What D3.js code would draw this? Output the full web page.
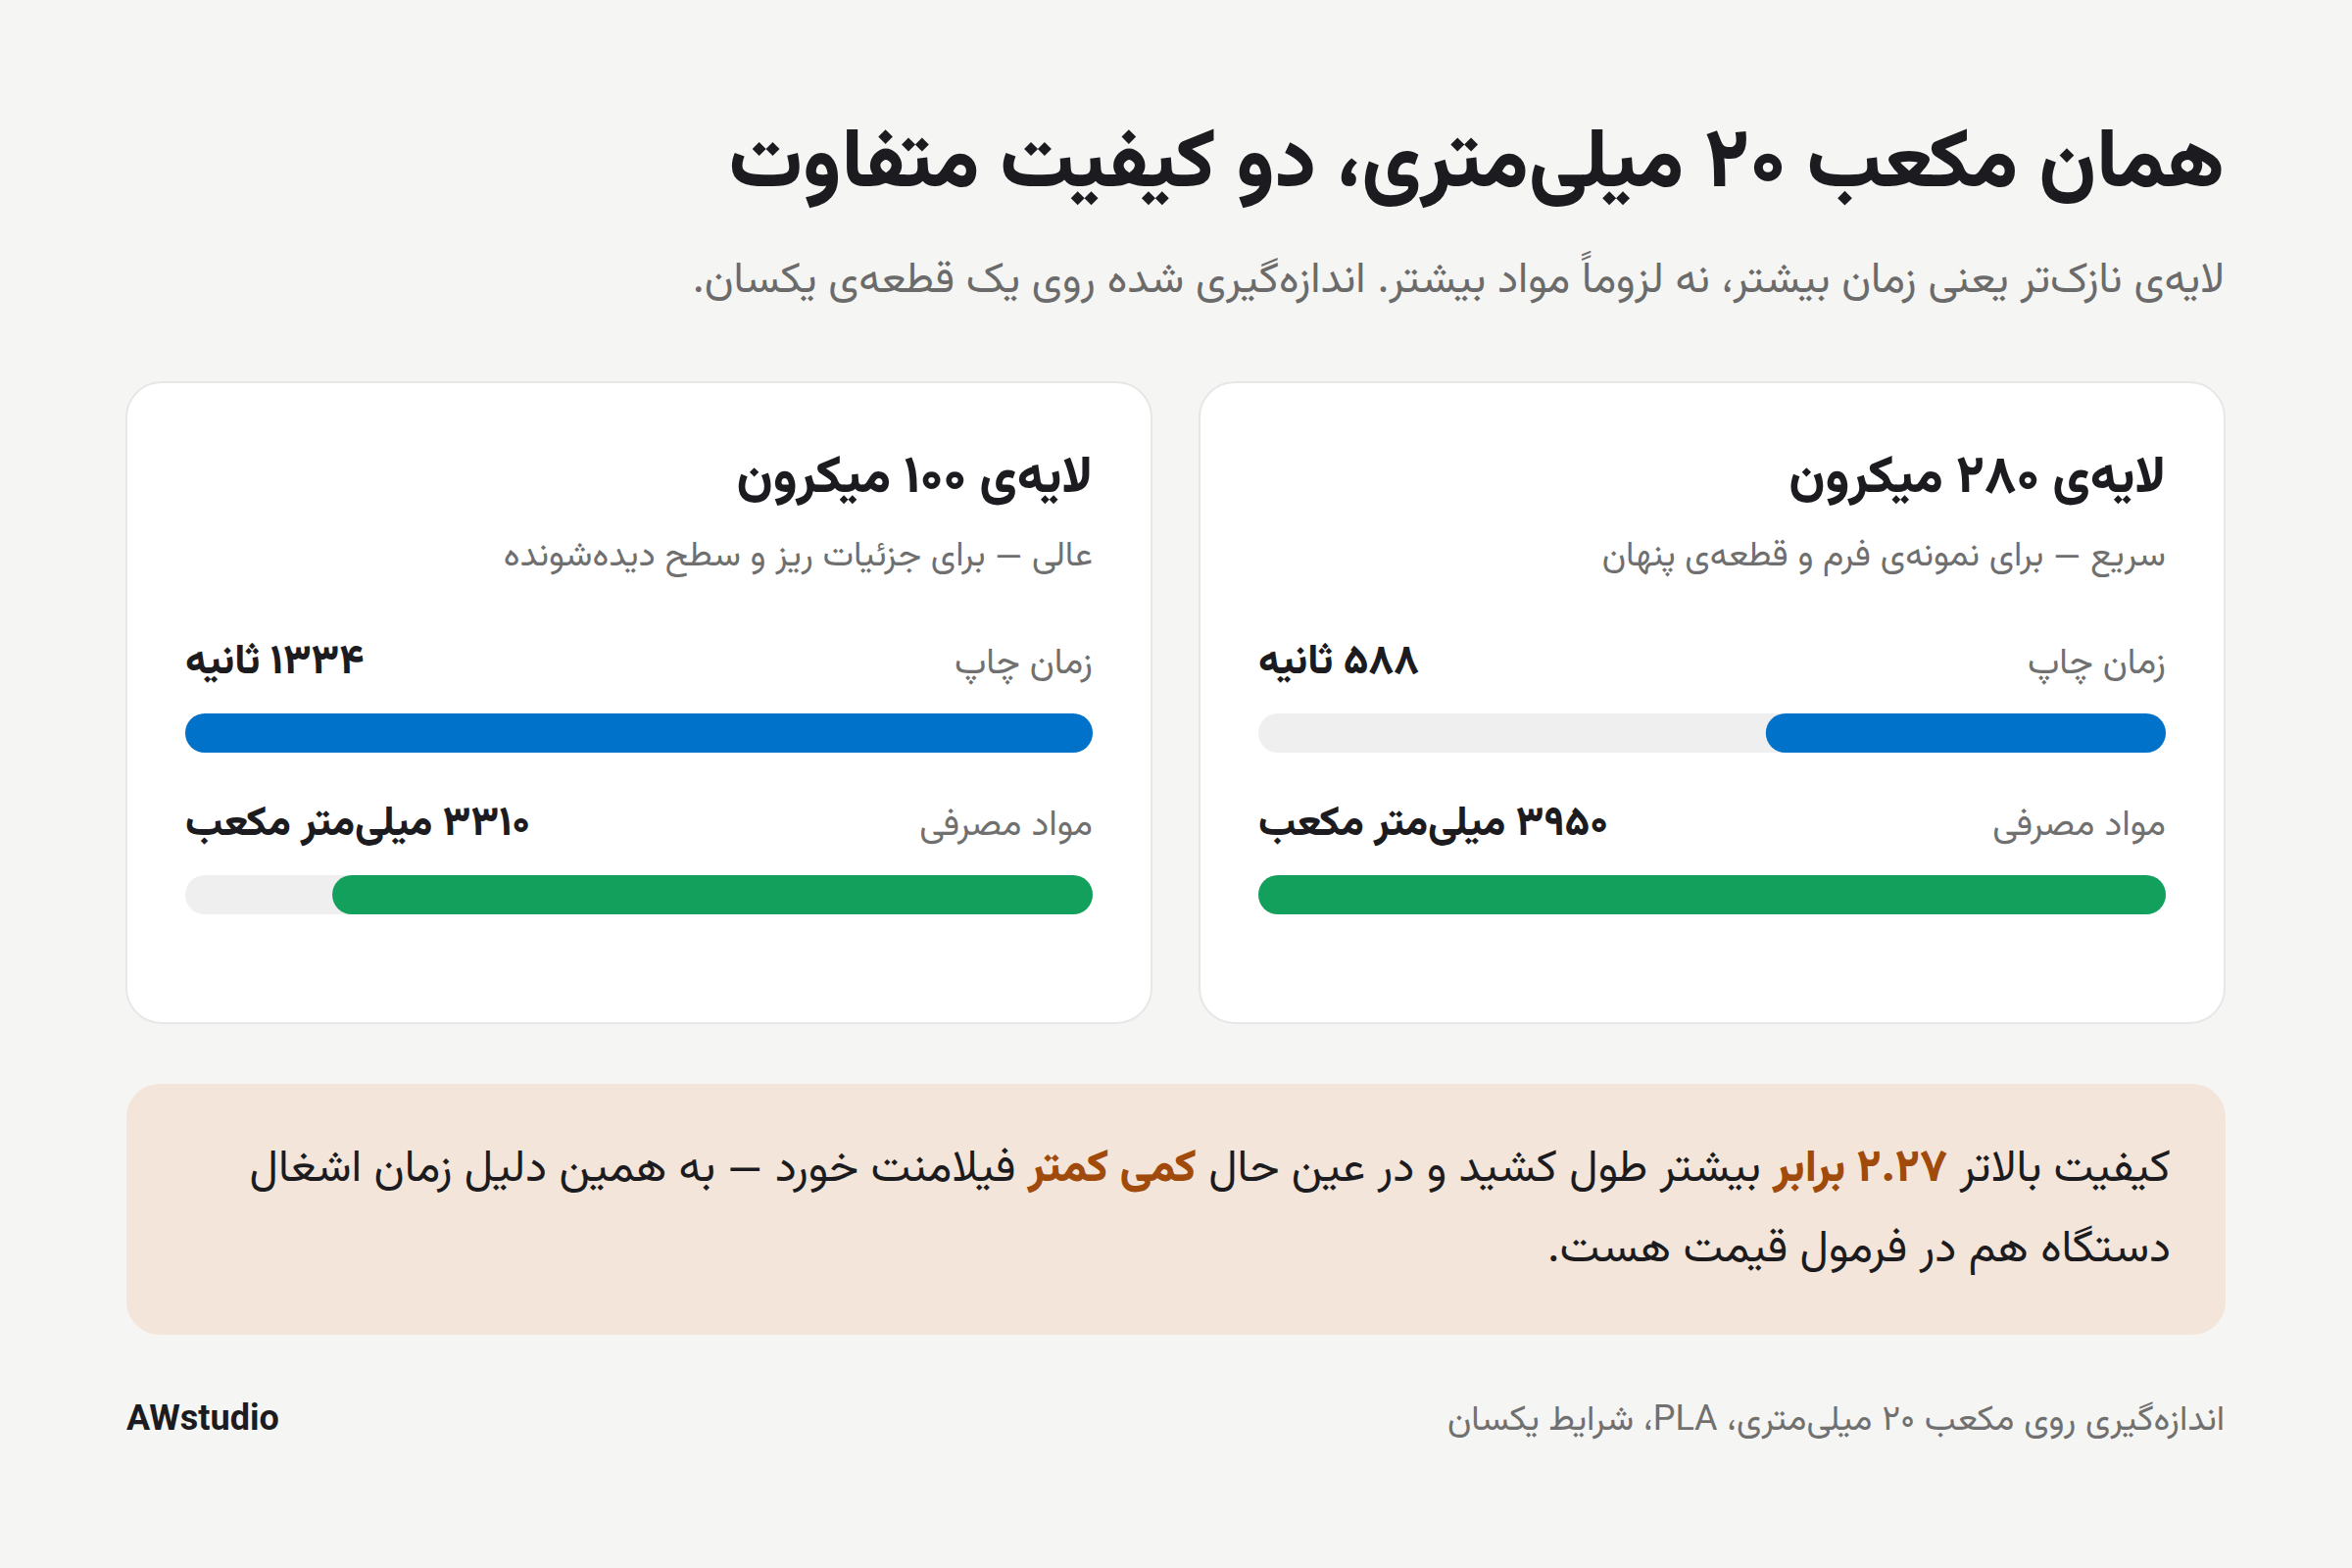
<!DOCTYPE html>
<html lang="fa" dir="rtl">
<head>
<meta charset="utf-8">
<script src="https://cdn.jsdelivr.net/npm/d3@7"></script>
<style>
  html, body { margin: 0; padding: 0; background: #f5f5f3; }
  svg { display: block; }
  text { font-family: "Vazirmatn", "Noto Sans Arabic", "DejaVu Sans", sans-serif; }
</style>
</head>
<body>
<svg id="chart" width="2400" height="1600"></svg>
<script>
// ---------- data ----------
const titleText = "همان مکعب ۲۰ میلی‌متری، دو کیفیت متفاوت";
const subtitleText = "لایه‌ی نازک‌تر یعنی زمان بیشتر، نه لزوماً مواد بیشتر. اندازه‌گیری شده روی یک قطعه‌ی یکسان.";
const layers = ["لایه‌ی ۲۸۰ میکرون", "لایه‌ی ۱۰۰ میکرون"];
const layerNotes = ["سریع — برای نمونه‌ی فرم و قطعه‌ی پنهان", "عالی — برای جزئیات ریز و سطح دیده‌شونده"];
const metricLabels = ["زمان چاپ", "مواد مصرفی"];
const metricUnits = ["ثانیه", "میلی‌متر مکعب"];
const printTime = [588, 1334];
const material = [3950, 3310];
const noteLine1 = [
  {t: "کیفیت بالاتر ", h: false},
  {t: "۲.۲۷ برابر", h: true},
  {t: " بیشتر طول کشید و در عین حال ", h: false},
  {t: "کمی کمتر", h: true},
  {t: " فیلامنت خورد — به همین دلیل زمان اشغال", h: false}
];
const noteLine2 = [{t: "دستگاه هم در فرمول قیمت هست.", h: false}];
const footerBrand = "AWstudio";
const footerNote = "اندازه‌گیری روی مکعب ۲۰ میلی‌متری، PLA، شرایط یکسان";

// ---------- helpers ----------
const faDigits = n => String(n).replace(/\d/g, d => "۰۱۲۳۴۵۶۷۸۹"[d]);

const svg = d3.select("#chart");
const right = 2270;

// title & subtitle
svg.append("text").attr("x", right).attr("y", 190)
  .attr("direction", "rtl").attr("text-anchor", "start")
  .attr("font-size", 84).attr("font-weight", 800).attr("fill", "#1c1c20")
  .text(titleText);
svg.append("text").attr("x", right).attr("y", 298)
  .attr("direction", "rtl").attr("text-anchor", "start")
  .attr("font-size", 44).attr("fill", "#6b6b6b")
  .text(subtitleText);

// cards
const cardW = 1046, cardH = 654, cardTop = 390, pad = 60;
const cardX = d3.scaleOrdinal().domain(layers).range([1224, 129]);
const metrics = [
  {label: metricLabels[0], unit: metricUnits[0], values: printTime, color: "#0072c9"},
  {label: metricLabels[1], unit: metricUnits[1], values: material, color: "#12a05c"}
];
const trackW = cardW - 2 * pad;

layers.forEach((layer, i) => {
  const g = svg.append("g").attr("transform", `translate(${cardX(layer)},${cardTop})`);
  g.append("rect").attr("x", 0).attr("y", 0).attr("width", cardW).attr("height", cardH)
    .attr("rx", 36).attr("fill", "#ffffff").attr("stroke", "#e7e7e7").attr("stroke-width", 2);
  const rx = cardW - pad;
  g.append("text").attr("x", rx).attr("y", 112)
    .attr("direction", "rtl").attr("text-anchor", "start")
    .attr("font-size", 53).attr("font-weight", 800).attr("fill", "#1c1c20")
    .text(layer);
  g.append("text").attr("x", rx).attr("y", 187)
    .attr("direction", "rtl").attr("text-anchor", "start")
    .attr("font-size", 36).attr("fill", "#6f6f6f")
    .text(layerNotes[i]);

  metrics.forEach((m, j) => {
    const baseY = 297 + j * 165;
    const x = d3.scaleLinear().domain([0, d3.max(m.values)]).range([0, trackW]);
    g.append("text").attr("x", rx).attr("y", baseY)
      .attr("direction", "rtl").attr("text-anchor", "start")
      .attr("font-size", 37).attr("fill", "#707070")
      .text(m.label);
    g.append("text").attr("x", pad).attr("y", baseY)
      .attr("direction", "rtl").attr("text-anchor", "end")
      .attr("font-size", 42).attr("font-weight", 800).attr("fill", "#1c1c20")
      .text(faDigits(m.values[i]) + " " + m.unit);
    const barY = baseY + 41, barH = 40;
    g.append("rect").attr("x", pad).attr("y", barY).attr("width", trackW).attr("height", barH)
      .attr("rx", barH / 2).attr("fill", "#efefef");
    const w = x(m.values[i]);
    g.append("rect").attr("x", pad + trackW - w).attr("y", barY).attr("width", w).attr("height", barH)
      .attr("rx", barH / 2).attr("fill", m.color);
  });
});

// note box
const note = svg.append("g").attr("transform", "translate(129,1106)");
note.append("rect").attr("width", 2142).attr("height", 256).attr("rx", 34).attr("fill", "#f3e5d9");
[noteLine1, noteLine2].forEach((line, k) => {
  const t = note.append("text").attr("x", 2215 - 129).attr("y", 99 + k * 82)
    .attr("direction", "rtl").attr("text-anchor", "start")
    .attr("font-size", 46).attr("fill", "#1c1c20");
  t.selectAll("tspan").data(line).join("tspan")
    .attr("fill", d => d.h ? "#a04a0b" : "#1c1c20")
    .attr("font-weight", d => d.h ? 800 : 400)
    .text(d => d.t);
});

// footer
svg.append("text").attr("x", 129).attr("y", 1459)
  .attr("direction", "ltr").attr("text-anchor", "start")
  .style("font-family", "Roboto, Inter, sans-serif")
  .attr("font-size", 36).attr("font-weight", 700).attr("fill", "#1c1c20")
  .text(footerBrand);
svg.append("text").attr("x", right).attr("y", 1459)
  .attr("direction", "rtl").attr("text-anchor", "start")
  .attr("font-size", 36).attr("fill", "#707070")
  .text(footerNote);
</script>
</body>
</html>
